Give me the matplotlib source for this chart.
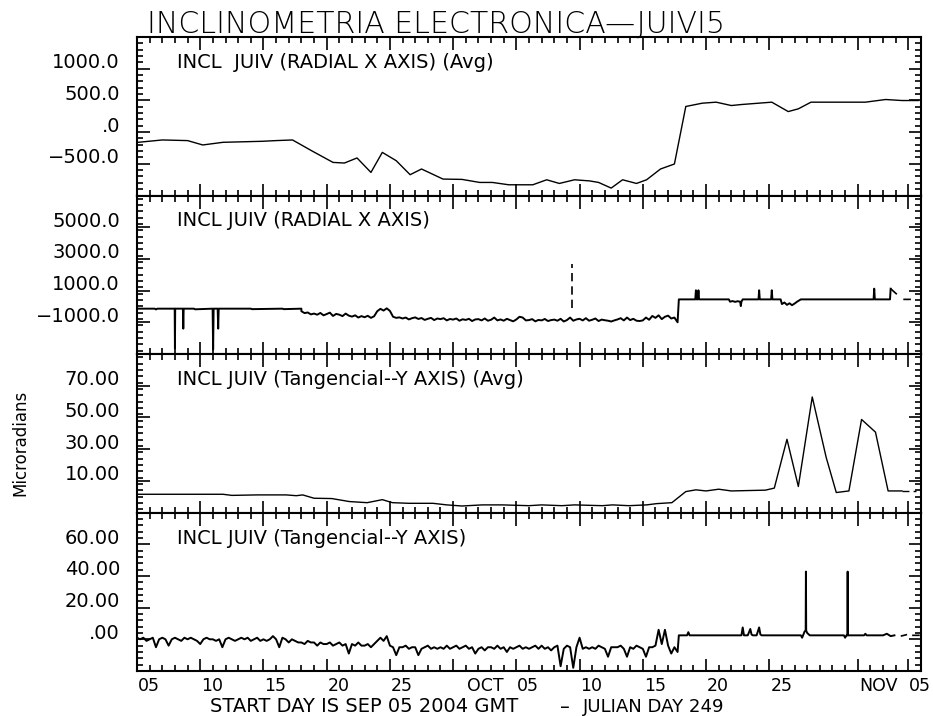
import numpy as np
import matplotlib.pyplot as plt
import matplotlib.transforms as mtransforms
from matplotlib.ticker import FixedLocator, MultipleLocator

plt.rcParams['font.family'] = ['DejaVu Sans']

# time axis: days since 2004-09-05 00:00 GMT
t_min, t_max = 0.0, 62.0

# x-axis ticks (days since start) and date labels
major_days = [0, 5, 10, 15, 20, 25, 30, 35, 40, 45, 50, 57, 61]
label_days = [0, 5, 10, 15, 20, 26, 30, 35, 40, 45, 50, 57, 61]
label_text = ['05', '10', '15', '20', '25', 'OCT', '05', '10', '15', '20', '25', 'NOV', '05']

# panel 1: radial X axis, daily averages
avg_x_day = [0.1, 2.0, 4.0, 5.2, 6.8, 9.9, 11.0, 12.3, 13.8, 15.5, 16.4, 17.4, 18.5, 19.4, 20.5,
             21.6, 22.5, 24.2, 25.7, 27.1, 28.1, 29.4, 31.3, 32.4, 33.4, 34.6, 35.8, 36.5, 37.5,
             38.4, 39.5, 40.3, 41.4, 42.5, 43.4, 44.7, 45.8, 47.0, 47.8, 50.2, 51.5, 52.3, 53.3,
             57.6, 59.2, 60.5, 61.8]
avg_x_val = [-161, -124, -134, -203, -161, -145, -134, -124, -293, -478, -488, -408, -636, -320, -451,
             -672, -582, -741, -746, -794, -794, -831, -831, -752, -810, -752, -770, -794, -883,
             -752, -810, -752, -582, -503, 404, 456, 472, 419, 435, 472, 324, 367, 472,
             472, 514, 498, 498]

# panel 2: radial X axis, raw readings
rad_a_day = [0.0, 1.4, 1.5, 1.6, 2.98, 3.0, 3.02, 3.63, 3.66, 3.69, 4.5, 4.6, 5.98, 6.02, 6.06,
             6.38, 6.42, 6.46, 9.0, 9.1, 11.5, 11.6, 13.0]
rad_a_val = [-140, -140, -190, -140, -140, -2650, -140, -140, -1400, -140, -140, -180, -140, -2720, -140,
             -140, -1400, -140, -140, -170, -140, -170, -140]
# six-hourly readings from day 13.0 to 42.75
rad_b_val = [-300, -420, -380, -500, -450, -520, -410, -560, -480, -390, -600, -470,
             -520, -610, -450, -580, -640, -560, -700, -610, -680, -590, -720, -620,
             -300, -150, -260, -120, -280, -650, -720, -690, -760, -700, -820, -740,
             -690, -790, -730, -850, -780, -720, -860, -760, -800, -740, -880, -790,
             -830, -760, -900, -810, -850, -780, -920, -820, -800, -880, -760, -900,
             -840, -700, -880, -820, -900, -780, -860, -940, -820, -650, -700, -880,
             -860, -800, -940, -850, -880, -790, -920, -860, -830, -900, -780, -950,
             -860, -700, -900, -820, -780, -880, -740, -900, -840, -760, -920, -830,
             -870, -900, -950, -880, -820, -740, -880, -700, -860, -780, -900, -920,
             -880, -700, -840, -600, -720, -560, -800, -650, -580, -760, -700, -1000]
rad_c_day = [42.85, 44.15, 44.2, 44.25, 44.35, 44.4, 44.45, 46.8, 46.9, 47.1, 47.3, 47.5, 47.7, 47.75,
             47.8, 47.9, 49.15, 49.2, 49.25, 50.15, 50.2, 50.25, 50.9, 51.0, 51.2, 51.4, 51.6, 51.8,
             52.0, 52.2, 52.5, 58.25, 58.3, 58.35, 59.55, 59.6]
rad_c_val = [446, 446, 1020, 446, 446, 1020, 446, 446, 300, 340, 290, 330, 300, 20,
             300, 446, 446, 1020, 446, 446, 1020, 446, 446, 150, 250, 100, 200, 80,
             180, 300, 446, 446, 1120, 446, 446, 1120]
rad_spike_day = [34.4, 34.4]
rad_spike_val = [-100, 2680]
rad_tail_day = [59.6, 60.1, np.nan, 60.6, 61.2]
rad_tail_val = [1120, 760, np.nan, 446, 446]

# panel 3: tangential Y axis, daily averages
avg_y_day = [0.1, 6.8, 7.5, 9.5, 11.8, 12.6, 13.1, 14.0, 15.4, 16.8, 18.2, 19.4, 20.2, 21.5, 23.4,
             24.5, 25.7, 27.3, 28.9, 31.0, 32.0, 33.6, 34.6, 36.8, 37.6, 38.9, 40.3, 41.1, 42.3,
             43.4, 44.2, 45.0, 46.0, 47.0, 49.7, 50.4, 51.4, 52.3, 53.4, 54.5, 55.3, 56.3, 57.3,
             58.4, 59.4, 60.5]
avg_y_val = [1.5, 1.5, 0.8, 1.1, 1.1, 0.6, 1.1, -1.0, -1.2, -3.1, -3.8, -1.9, -3.8, -4.2, -4.2,
             -5.2, -5.9, -5.2, -5.2, -5.7, -5.2, -5.7, -5.2, -5.7, -5.2, -5.7, -5.2, -4.4, -3.8,
             3.2, 4.3, 3.6, 4.7, 3.6, 4.1, 5.4, 36.2, 6.4, 62.9, 24.8, 2.6, 3.6, 48.7,
             40.7, 3.6, 3.6]
avg_y_tail_day = [60.5, 61.6]
avg_y_tail_val = [3.6, 3.6]

# panel 4: tangential Y axis, raw readings, six-hourly from day 0 to 42.75
tan_a_val = [1, 0, 1, -1, 0, 1, -5, 0, 1, 0, -4, 0, 1, 0, -1, 1,
             0, 1, 0, -1, -3, 0, 1, 0, 0, -1, 0, -5, 0, 1, 0, -1,
             0, 1, 0, 1, -1, 0, 1, -1, 0, -1, 0, 2, 0, -5, 1, 0,
             -2, 0, -1, -2, -2, -3, -1, -2, -2, -4, -2, -3, -3, -2, -4, -3,
             -2, -4, -3, -9, -3, -4, -2, -4, -4, -3, -5, -3, -1, 1, -1, 2,
             -4, -5, -10, -5, -5, -4, -6, -5, -5, -10, -6, -5, -4, -6, -5, -6,
             -5, -6, -4, -6, -5, -4, -6, -5, -4, -6, -5, -9, -6, -5, -7, -5,
             -5, -6, -4, -6, -5, -8, -5, -6, -5, -4, -6, -5, -6, -5, -4, -6,
             -4, -6, -5, -7, -5, -4, -17, -6, -4, -5, -18, -5, 1, -6, -5, -6,
             -5, -6, -4, -5, -6, -11, -5, -5, -5, -4, -6, -11, -5, -6, -4, -5,
             -6, -11, -5, -5, -4, 6, -3, 6, -4, -9, -5, -8]
tan_c_day = [42.85, 43.5, 43.6, 43.7, 44.2, 47.8, 47.9, 48.0, 48.3, 48.5, 48.6, 48.7, 49.0, 49.2,
             49.3, 49.4, 49.7, 52.5, 52.6, 52.8, 52.88, 52.9, 52.92, 53.0, 53.2, 55.9, 56.0, 56.1,
             56.18, 56.2, 56.22, 56.3, 57.5, 57.6, 57.7, 59.0, 59.3, 59.6, 59.9]
tan_c_val = [2.5, 2.5, 4.5, 2.5, 2.5, 2.5, 7.5, 2.5, 2.5, 6.5, 3.0, 2.5, 2.5, 7.5,
             3.0, 2.5, 2.5, 2.5, 1.0, 5.0, 5.5, 42.7, 5.5, 4.0, 2.5, 2.5, 1.0, 2.5,
             2.5, 42.7, 2.5, 2.5, 2.5, 3.5, 2.5, 2.5, 3.5, 2.0, 2.5]
tan_tail_day = [60.4, 60.9, np.nan, 61.3, 61.9]
tan_tail_val = [2.0, 3.0, np.nan, 2.5, 2.5]

# y axis set-up for each panel
panel_titles = ['INCL  JUIV (RADIAL X AXIS) (Avg)', 'INCL JUIV (RADIAL X AXIS)',
                'INCL JUIV (Tangencial--Y AXIS) (Avg)', 'INCL JUIV (Tangencial--Y AXIS)']
y_limits = [(-1000, 1500), (-3000, 7000), (-10, 90), (-20, 80)]
y_ticks = [[-500, 0, 500, 1000], [-1000, 1000, 3000, 5000], [10, 30, 50, 70], [0, 20, 40, 60]]
y_labels = [['\u2212500.0', '.0', '500.0', '1000.0'],
            ['\u22121000.0', '1000.0', '3000.0', '5000.0'],
            ['10.00', '30.00', '50.00', '70.00'],
            ['.00', '20.00', '40.00', '60.00']]
y_minor = [100, 400, 4, 4]

rad_b_day = 13.0 + 0.25 * np.arange(len(rad_b_val))
tan_a_day = 0.25 * np.arange(len(tan_a_val))
rad_day = np.concatenate([rad_a_day, rad_b_day, rad_c_day])
rad_val = np.concatenate([rad_a_val, rad_b_val, rad_c_val])
tan_day = np.concatenate([tan_a_day, tan_c_day])
tan_val = np.concatenate([tan_a_val, tan_c_val])

W, H = 933, 716
fig = plt.figure(figsize=(W / 100, H / 100), dpi=100)
left, right = 137, 921
tops = [37, 195.5, 354, 512.5]
ph = 158.5
dpi_t = fig.dpi_scale_trans

axes = []
for i, top in enumerate(tops):
    ax = fig.add_axes([left / W, 1 - (top + ph) / H, (right - left) / W, ph / H])
    ax.set_xlim(t_min, t_max)
    ax.set_ylim(*y_limits[i])
    ax.xaxis.set_major_locator(FixedLocator(major_days))
    ax.xaxis.set_minor_locator(MultipleLocator(1))
    ax.yaxis.set_major_locator(FixedLocator(y_ticks[i]))
    ax.yaxis.set_minor_locator(MultipleLocator(y_minor[i]))
    ax.tick_params(which='both', direction='in', top=True, right=True,
                   labelleft=False, labelbottom=False, width=1.2, color='black')
    ax.tick_params(which='major', length=9)
    ax.tick_params(which='minor', length=4.5)
    for sp in ax.spines.values():
        sp.set_linewidth(1.5)
    # y tick labels sit a little above their ticks
    ytr = ax.get_yaxis_transform() + mtransforms.ScaledTranslation(-0.17, 0.06, dpi_t)
    for v, s in zip(y_ticks[i], y_labels[i]):
        ax.text(0, v, s, transform=ytr, ha='right', va='center', fontsize=14)
    ttr = ax.transAxes + mtransforms.ScaledTranslation(0.40, -0.31, dpi_t)
    ax.text(0, 1, panel_titles[i], transform=ttr, ha='left', va='baseline', fontsize=14)
    axes.append(ax)

ax1, ax2, ax3, ax4 = axes
ax1.plot(avg_x_day, avg_x_val, color='black', lw=1.0)
ax2.plot(rad_day, rad_val, color='black', lw=1.4)
ax2.plot(rad_spike_day, rad_spike_val, color='black', lw=1.2, ls=(0, (5, 3)))
ax2.plot(rad_tail_day, rad_tail_val, color='black', lw=1.2, ls=(0, (5, 3)))
ax3.plot(avg_y_day, avg_y_val, color='black', lw=1.0)
ax3.plot(avg_y_tail_day, avg_y_tail_val, color='black', lw=1.0, ls=(0, (5, 3)))
ax4.plot(tan_day, tan_val, color='black', lw=1.4)
ax4.plot(tan_tail_day, tan_tail_val, color='black', lw=1.2, ls=(0, (5, 3)))

# date labels under the bottom panel, starting at their ticks
xtr = ax4.get_xaxis_transform() + mtransforms.ScaledTranslation(0.01, -0.06, dpi_t)
for d, s in zip(label_days, label_text):
    ax4.text(d, 0, s, transform=xtr, ha='left', va='top', fontsize=12.5)

fig.text(147 / W, 1 - 33 / H, 'INCLINOMETRIA ELECTRONICA\u2014JUIVI5', fontsize=21.6,
         ha='left', va='baseline', fontweight='light')
fig.text(20 / W, 1 - 443 / H, 'Microradians', rotation=90, ha='center', va='center', fontsize=12)
fig.text(210 / W, 1 - 707 / H, 'START DAY IS SEP 05 2004 GMT',
         ha='left', va='center', fontsize=14)
fig.text(560 / W, 1 - 707 / H, '\u2013', ha='left', va='center', fontsize=14)
fig.text(583 / W, 1 - 707 / H, 'JULIAN DAY 249', ha='left', va='center', fontsize=13.1)

fig.savefig('out.png', dpi=100, facecolor='white')
